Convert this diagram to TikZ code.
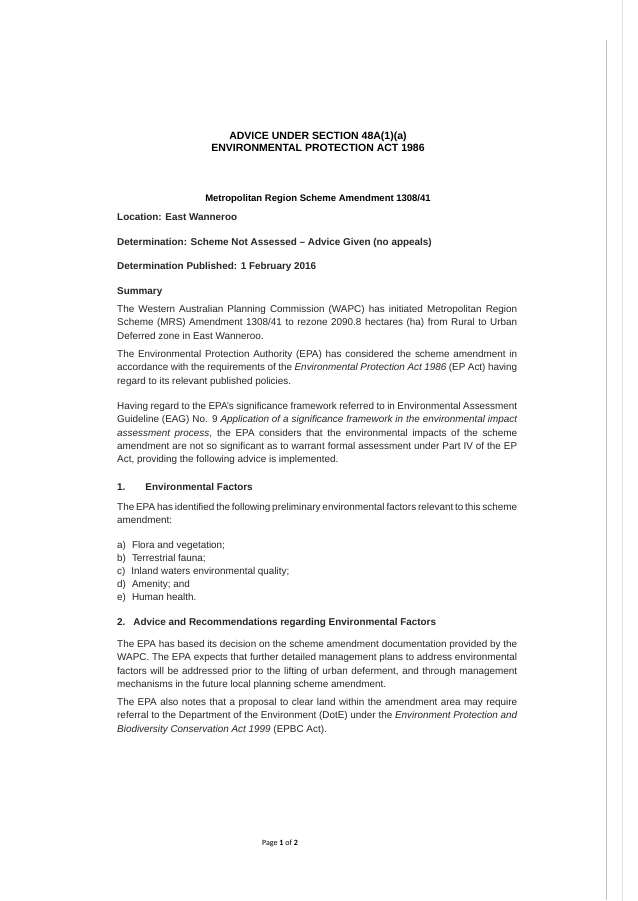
\documentclass[tikz,border=0pt]{standalone}
\usepackage{fontspec}
\setmainfont{Liberation Sans}
\newfontfamily\pagefont{Carlito}
\hyphenpenalty=10000
\exhyphenpenalty=10000
\begin{document}
\begin{tikzpicture}[x=1pt,y=-1pt,
  body/.style={anchor=north west,inner sep=0pt,text width=400pt,align=justify,font=\fontsize{9.9}{13.4}\selectfont,text=black!85},
  line/.style={anchor=base west,inner sep=0pt,font=\fontsize{9.9}{13.4}\selectfont,text=black!85},
  head/.style={line,font=\fontsize{9.9}{13.4}\selectfont\bfseries}]
\useasboundingbox (0,0) rectangle (637,901);
\fill[white] (0,0) rectangle (637,901);
%\draw (117,0) -- (117,901);
\draw[black!25,line width=0.8pt] (606,40) -- (606,900);
\draw[black!12] (622,0) -- (622,901);
\node[anchor=base,inner sep=0pt,font=\fontsize{10.5}{12.8}\selectfont\bfseries,align=center] (title) at (318,152) {ADVICE UNDER SECTION 48A(1)(a)\\ENVIRONMENTAL PROTECTION ACT 1986};
\node[anchor=base,inner sep=0pt,font=\fontsize{9.5}{12}\selectfont\bfseries] (mrs) at (318,202) {Metropolitan Region Scheme Amendment 1308/41};
\node[head] (loc) at (117,221) {Location: East Wanneroo};
\node[head] (det) at (117,245) {Determination: Scheme Not Assessed -- Advice Given (no appeals)};
\node[head] (pub) at (117,269) {Determination Published: 1 February 2016};
\node[head] (sum) at (117,294) {Summary};
\node[body] (p1) at (117,305) {The Western Australian Planning Commission (WAPC) has initiated Metropolitan Region Scheme (MRS) Amendment 1308/41 to rezone 2090.8 hectares (ha) from Rural to Urban Deferred zone in East Wanneroo.};
\node[body] (p2) at (117,350) {The Environmental Protection Authority (EPA) has considered the scheme amendment in accordance with the requirements of the \textit{Environmental Protection Act 1986} (EP Act) having regard to its relevant published policies.};
\node[body] (p3) at (117,402) {Having regard to the EPA's significance framework referred to in Environmental Assessment Guideline (EAG) No. 9 \textit{Application of a significance framework in the environmental impact assessment process}, the EPA considers that the environmental impacts of the scheme amendment are not so significant as to warrant formal assessment under Part IV of the EP Act, providing the following advice is implemented.};
\node[head] (h1) at (117,490) {1.\hspace{20pt}Environmental Factors};
\node[body] (p4) at (117,503) {The EPA has identified the following preliminary environmental factors relevant to this scheme amendment:};
\node[line] (la) at (117,548) {a)\hspace{6pt}Flora and vegetation;};
\node[line] (lb) at (117,561) {b)\hspace{6pt}Terrestrial fauna;};
\node[line] (lc) at (117,574) {c)\hspace{6pt}Inland waters environmental quality;};
\node[line] (ld) at (117,587) {d)\hspace{6pt}Amenity; and};
\node[line] (le) at (117,600) {e)\hspace{6pt}Human health.};
\node[head] (h2) at (117,625) {2.\hspace{8pt}Advice and Recommendations regarding Environmental Factors};
\node[body] (p5) at (117,640) {The EPA has based its decision on the scheme amendment documentation provided by the WAPC. The EPA expects that further detailed management plans to address environmental factors will be addressed prior to the lifting of urban deferment, and through management mechanisms in the future local planning scheme amendment.};
\node[body] (p6) at (117,698) {The EPA also notes that a proposal to clear land within the amendment area may require referral to the Department of the Environment (DotE) under the \textit{Environment Protection and Biodiversity Conservation Act 1999} (EPBC Act).};
\node[anchor=base,inner sep=0pt,font=\pagefont\fontsize{8}{10}\selectfont] (page) at (280,845) {Page \textbf{1} of \textbf{2}};
\end{tikzpicture}
\end{document}
